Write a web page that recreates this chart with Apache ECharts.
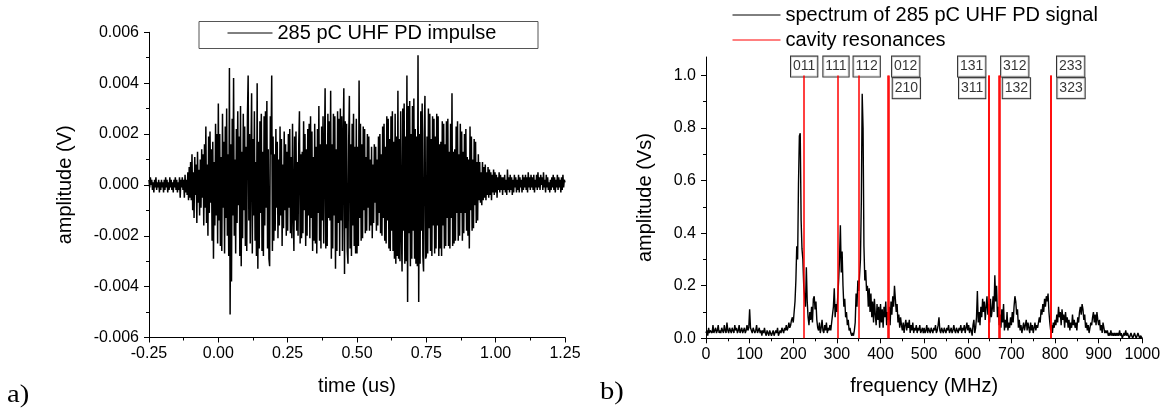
<!DOCTYPE html>
<html>
<head>
<meta charset="utf-8">
<script src="https://cdn.jsdelivr.net/npm/echarts@6/dist/echarts.min.js"></script>
<style>
html,body{margin:0;padding:0;background:#fff;}
#c{width:1165px;height:412px;}
</style>
</head>
<body>
<div id="c"></div>
<script>
// ---------- panel a: time signal (amplitude in mV, sampled every 2.5 ns from -0.25 us) ----------
const timeStart = -0.25;
const timeStep = 0.0025;
const impulse_mV = [
 0.2,-0.1,0.3,0.0,0.2,-0.2,0.1,-0.3,0.2,-0.1,0.3,-0.2,0.1,-0.1,0.2,-0.3,0.1,-0.2,0.2,-0.1,
 0.1,-0.3,0.2,-0.2,0.3,-0.1,0.2,-0.3,0.1,-0.2,0.3,-0.1,0.2,-0.2,0.1,-0.3,0.2,-0.1,0.3,-0.2,
 0.2,-0.3,0.1,-0.2,0.3,-0.5,0.2,-0.1,0.3,-0.2,0.2,-0.5,0.4,-0.3,0.2,-0.4,0.5,-0.6,0.7,-0.5,
 0.9,-0.6,1.2,-1.0,0.5,-1.3,1.1,-0.4,0.8,-1.5,1.3,-0.7,0.6,-1.2,1.0,-0.9,1.4,-0.5,1.2,-1.6,
 1.6,-0.9,2.3,-1.5,0.8,-2.0,1.9,-1.1,2.1,-0.7,1.4,-2.2,1.7,-2.9,0.9,-1.6,2.4,-1.2,2.0,-2.3,
 3.2,-1.4,2.0,-2.4,1.1,-2.6,2.8,-0.9,1.7,-2.7,2.3,-1.3,3.0,-2.0,1.2,-2.8,4.6,-5.1,1.6,-3.8,
 2.6,-1.2,4.2,-2.0,1.0,-2.7,2.2,-1.5,2.9,-0.8,1.9,-2.8,3.1,-3.2,1.3,-2.1,2.8,-1.0,2.3,-2.4,
 1.5,-2.6,2.7,4.3,-1.4,2.0,-2.3,1.1,3.6,-2.7,1.8,-1.2,2.9,-2.2,0.9,-2.8,4.0,-3.3,1.7,-2.5,
 2.5,-1.1,2.8,-2.6,1.3,-2.8,2.7,-1.6,2.9,-0.9,3.3,-2.5,1.4,-2.9,-3.2,2.7,1.2,4.3,-2.6,1.9,
 -2.2,1.2,-1.8,2.2,-0.9,1.7,-2.1,1.0,-1.6,2.3,-1.2,1.8,-2.4,0.8,-1.7,2.1,-1.0,1.6,-2.0,1.3,
 -1.8,2.0,-0.9,2.2,-1.9,1.1,-2.1,2.4,-1.0,-2.6,1.9,-1.4,2.1,-1.8,0.9,-2.0,1.6,2.9,-2.3,1.2,
 -2.1,1.3,-1.9,2.5,-1.0,2.0,-2.4,1.4,-2.0,2.2,-1.2,2.4,-2.1,2.7,-1.3,2.1,-2.6,1.1,-2.2,2.4,
 -2.3,1.5,-2.7,2.2,-1.1,3.1,-2.2,1.6,-2.5,2.3,-1.4,2.7,-2.3,1.2,3.8,-2.5,1.6,-2.4,2.8,-1.3,
 2.5,-1.4,3.7,-2.9,1.6,-2.5,2.8,-1.2,2.7,-3.3,1.4,-2.6,2.9,-1.5,2.6,-2.8,3.0,-1.4,2.7,-2.6,
 1.6,3.8,-3.5,2.5,-1.7,2.4,-2.6,-3.1,1.7,3.5,-2.5,1.6,-2.8,2.4,-1.6,2.8,-2.4,1.5,-2.7,2.6,
 -2.7,1.5,-2.4,4.1,-1.3,2.4,-2.2,1.6,-2.1,2.3,-1.0,2.2,-1.9,1.1,-1.8,2.0,-0.9,1.9,-1.8,1.0,
 -1.6,1.5,-2.1,0.8,-1.5,1.6,-0.7,1.5,-1.8,1.0,-1.6,1.9,-1.1,2.0,-1.9,1.2,-2.0,2.3,-1.3,2.4,
 -2.2,1.5,-2.3,2.7,-1.4,2.6,-2.5,1.8,-2.6,2.7,-1.8,2.9,-2.6,1.7,-2.9,2.8,-3.1,1.9,-2.8,3.7,
 -2.9,1.8,-3.0,2.9,-1.7,-3.4,3.0,-1.8,3.2,-3.1,1.9,-3.0,4.3,-4.6,3.1,-1.9,3.3,-3.2,2.0,-2.9,
 3.1,-1.8,3.4,-2.9,2.2,-3.1,1.9,-3.2,5.1,-4.6,2.0,-3.1,2.9,-1.8,3.2,-2.8,-3.4,2.0,3.5,-2.9,
 -2.8,1.9,-2.7,3.0,-1.7,2.8,-2.6,1.8,-2.8,2.7,-1.6,2.6,-2.7,1.9,-2.5,2.8,-1.6,2.7,-2.8,1.6,
 -2.5,1.7,-2.8,2.5,-1.6,2.4,-2.5,1.6,-2.4,2.5,-1.3,2.6,-2.4,1.3,-2.5,2.4,-1.3,3.6,-2.4,1.3,
 -2.3,1.4,-2.2,2.3,-1.1,2.5,-2.2,1.2,-2.0,2.4,-1.1,2.1,-2.2,1.3,-1.9,2.0,-1.1,2.2,-1.8,1.1,
 -2.0,1.0,-2.5,2.3,-1.0,1.9,-1.8,1.0,-1.7,1.8,-0.8,1.7,-1.5,0.9,-1.4,1.2,-0.6,0.9,-0.7,0.5,
 -0.8,0.9,-0.6,0.7,-0.5,0.8,-0.6,0.5,-0.4,0.7,-0.5,0.6,-0.4,0.5,-0.6,0.4,-0.3,0.6,-0.4,0.5,
 -0.3,0.4,-0.5,0.3,-0.2,0.5,-0.3,0.4,-0.2,0.3,-0.4,0.3,-0.2,0.4,-0.3,0.2,-0.4,0.6,-0.2,0.3,
 -0.3,0.4,-0.2,0.3,-0.4,0.2,-0.3,0.4,-0.1,0.3,-0.3,0.2,-0.2,0.4,-0.3,0.3,-0.1,0.2,-0.3,0.4,
 -0.2,0.3,-0.1,0.4,-0.2,0.3,-0.3,0.5,-0.1,0.3,-0.2,0.4,-0.1,0.3,-0.2,0.4,-0.3,0.2,-0.1,0.4,
 -0.2,0.5,-0.1,0.3,-0.2,0.4,0.0,0.3,-0.2,0.5,-0.1,0.2,-0.3,0.4,-0.1,0.3,-0.2,0.1,-0.3,0.2,
 -0.2,0.3,-0.1,0.4,-0.2,0.3,-0.3,0.2,-0.1,0.4,-0.2,0.3,-0.1,0.2,-0.3,0.3,-0.2,0.4,-0.1,0.2,
 0.1
];
const timeTicks = [-0.25, 0.00, 0.25, 0.50, 0.75, 1.00, 1.25];
const voltTicks = [-0.006, -0.004, -0.002, 0.000, 0.002, 0.004, 0.006];

// ---------- panel b: spectrum (Vs, every 2 MHz from 0 MHz) ----------
const freqStart = 0;
const freqStep = 2;
const spectrum_Vs = [
 0.02,0.03,0.01,0.04,0.02,0.03,0.03,0.02,0.05,0.02, 0.03,0.04,0.02,0.03,0.05,0.02,0.03,0.02,0.04,0.03,
 0.02,0.05,0.03,0.02,0.06,0.03,0.02,0.04,0.03,0.02, 0.04,0.03,0.02,0.05,0.03,0.04,0.02,0.03,0.05,0.02,
 0.03,0.04,0.02,0.03,0.04,0.02,0.03,0.05,0.03,0.04,
 0.11,0.04,0.03,0.02,0.04,0.03,0.02,0.03,0.05,0.02, 0.03,0.04,0.02,0.03,0.01,0.03,0.02,0.04,0.02,0.01,
 0.03,0.02,0.01,0.03,0.02,0.01,0.02,0.03,0.01,0.02, 0.03,0.02,0.04,0.01,0.02,0.03,0.02,0.04,0.03,0.02,
 0.04,0.03,0.05,0.03,0.04,0.06,0.04,0.05,0.07,0.08,
 0.06,0.10,0.14,0.22,0.35,0.30,0.59,0.77,0.78,0.45, 0.34,0.30,0.20,0.16,0.12,0.27,0.14,0.08,0.05,0.10,
 0.07,0.12,0.06,0.15,0.16,0.11,0.14,0.07,0.04,0.03, 0.06,0.02,0.04,0.07,0.03,0.02,0.05,0.03,0.06,0.02,
 0.04,0.03,0.05,0.03,0.06,0.09,0.12,0.19,0.08,0.13,
 0.10,0.16,0.22,0.30,0.43,0.25,0.33,0.20,0.12,0.15, 0.08,0.10,0.05,0.07,0.03,0.04,0.02,0.01,0.02,0.01,
 0.03,0.06,0.17,0.12,0.22,0.18,0.24,0.30,0.52,0.93, 0.80,0.35,0.22,0.26,0.18,0.20,0.12,0.19,0.10,0.17,
 0.08,0.14,0.06,0.15,0.09,0.05,0.13,0.07,0.12,0.04,
 0.13,0.06,0.11,0.04,0.12,0.08,0.14,0.05,0.10,0.07, 0.12,0.05,0.14,0.09,0.16,0.12,0.20,0.15,0.10,0.13,
 0.06,0.09,0.04,0.08,0.05,0.03,0.06,0.02,0.05,0.07, 0.03,0.06,0.04,0.07,0.02,0.05,0.03,0.06,0.02,0.04,
 0.03,0.05,0.02,0.04,0.03,0.05,0.02,0.03,0.04,0.02,
 0.04,0.02,0.03,0.05,0.02,0.04,0.03,0.02,0.04,0.03, 0.02,0.04,0.03,0.05,0.02,0.03,0.05,0.08,0.03,0.02,
 0.04,0.03,0.02,0.04,0.03,0.02,0.04,0.03,0.05,0.02, 0.03,0.04,0.02,0.03,0.05,0.03,0.02,0.04,0.03,0.02,
 0.04,0.03,0.05,0.02,0.04,0.03,0.05,0.02,0.04,0.06,
 0.03,0.05,0.02,0.04,0.03,0.01,0.05,0.07,0.02,0.04, 0.08,0.18,0.06,0.10,0.05,0.12,0.08,0.15,0.10,0.14,
 0.07,0.12,0.16,0.09,0.13,0.06,0.15,0.08,0.11,0.16, 0.10,0.24,0.14,0.20,0.08,0.12,0.05,0.09,0.04,0.11,
 0.06,0.13,0.03,0.07,0.04,0.10,0.03,0.06,0.04,0.08,
 0.05,0.10,0.06,0.12,0.16,0.14,0.09,0.11,0.04,0.07, 0.03,0.05,0.02,0.04,0.06,0.03,0.05,0.07,0.03,0.06,
 0.04,0.02,0.06,0.03,0.05,0.02,0.04,0.06,0.03,0.05, 0.04,0.06,0.08,0.06,0.11,0.09,0.13,0.10,0.15,0.12,
 0.16,0.14,0.17,0.10,0.06,0.03,0.05,0.02,0.06,0.04,
 0.07,0.05,0.09,0.06,0.12,0.08,0.10,0.05,0.11,0.07, 0.09,0.04,0.10,0.06,0.08,0.04,0.07,0.03,0.06,0.04,
 0.09,0.05,0.07,0.04,0.06,0.03,0.08,0.06,0.10,0.12, 0.09,0.13,0.11,0.07,0.09,0.04,0.06,0.03,0.05,0.02,
 0.04,0.06,0.05,0.08,0.10,0.06,0.09,0.05,0.10,0.07,
 0.05,0.07,0.03,0.05,0.02,0.06,0.04,0.02,0.03,0.02, 0.03,0.01,0.02,0.01,0.03,0.01,0.02,0.01,0.02,0.01,
 0.02,0.01,0.02,0.01,0.03,0.01,0.02,0.00,0.01,0.02, 0.01,0.03,0.01,0.02,0.01,0.00,0.01,0.02,0.01,0.00,
 0.01,0.02,0.01,0.00,0.01,0.02,0.01,0.00,0.01,0.01,
 0.00
];
const freqTicks = [0,100,200,300,400,500,600,700,800,900,1000];
const specTicks = [0.0,0.2,0.4,0.6,0.8,1.0];
const specMinorTicks = [0.1,0.3,0.5,0.7,0.9];

// cavity resonances (MHz) and their mode labels
const resonanceFreq = [225, 302.5, 350, 416.5, 418, 648, 649, 671, 672.5, 790, 790.8];
const resonanceMode = ['011','111','112','012','210','131','311','312','132','233','323'];
const resonanceTop = 1.0;

// ---------- build ----------
const FONT = '"Liberation Sans", Arial, sans-serif';
const timeSeries = impulse_mV.map((v, i) => [timeStart + i * timeStep, v / 1000]);
const specSeries = spectrum_Vs.map((v, i) => [freqStart + i * freqStep, v]);

// label box layout: [row (0 top, 1 bottom), pixel offset from line]
const labelLayout = {
  '011':[0,0], '111':[0,-2], '112':[0,8], '012':[0,18], '210':[1,18],
  '131':[0,-17], '311':[1,-17], '312':[0,16], '132':[1,17], '233':[0,20], '323':[1,20]
};
const rowValue = [1.041, 0.959];

const markLines = resonanceFreq.map(f => [{coord:[f, 0]}, {coord:[f, resonanceTop]}]);
const labelData = resonanceFreq.map((f, i) => {
  const m = resonanceMode[i];
  const lay = labelLayout[m];
  return {value:[f, rowValue[lay[0]]], name:m, label:{offset:[lay[1], 2]}};
});

const axisCommon = {
  axisLine:{show:true, onZero:false, lineStyle:{color:'#000', width:1}},
  axisTick:{show:true, inside:false, length:5, lineStyle:{color:'#000'}},
  minorTick:{show:true, splitNumber:2, length:3, lineStyle:{color:'#000'}},
  splitLine:{show:false},
  axisLabel:{color:'#000', fontFamily:FONT, fontSize:16},
  nameTextStyle:{color:'#000', fontFamily:FONT, fontSize:20},
  nameLocation:'middle'
};

const chart = echarts.init(document.getElementById('c'), null, {renderer:'canvas'});
chart.setOption({
  animation:false,
  backgroundColor:'#fff',
  grid:[
    {left:149, top:32.3, width:416, height:305.2},
    {left:706, top:57, width:436.3, height:281.3}
  ],
  xAxis:[
    Object.assign({}, axisCommon, {
      gridIndex:0, type:'value', min:timeTicks[0], max:timeTicks[timeTicks.length-1], interval:0.25,
      name:'time (us)', nameGap:39,
      axisLabel:Object.assign({}, axisCommon.axisLabel, {margin:8, formatter:v => v.toFixed(2)})
    }),
    Object.assign({}, axisCommon, {
      gridIndex:1, type:'value', min:freqTicks[0], max:freqTicks[freqTicks.length-1], interval:100,
      name:'frequency (MHz)', nameGap:38,
      axisLabel:Object.assign({}, axisCommon.axisLabel, {margin:8, formatter:v => String(v)})
    })
  ],
  yAxis:[
    Object.assign({}, axisCommon, {
      gridIndex:0, type:'value', min:voltTicks[0], max:voltTicks[voltTicks.length-1], interval:0.002,
      name:'amplitude (V)', nameGap:74,
      axisLabel:Object.assign({}, axisCommon.axisLabel, {margin:10, formatter:v => v.toFixed(3)})
    }),
    Object.assign({}, axisCommon, {
      gridIndex:1, type:'value', min:0, max:1.07,
      name:'amplitude (Vs)', nameGap:51,
      minorTick:{show:false},
      axisTick:Object.assign({}, axisCommon.axisTick, {customValues:specTicks}),
      axisLabel:Object.assign({}, axisCommon.axisLabel, {margin:10, customValues:specTicks, formatter:v => v.toFixed(1)})
    }),
    {
      gridIndex:1, type:'value', min:0, max:1.07, position:'left',
      axisLine:{show:false}, splitLine:{show:false}, minorTick:{show:false},
      axisLabel:{show:false, customValues:specMinorTicks},
      axisTick:{show:true, length:3, lineStyle:{color:'#000'}, customValues:specMinorTicks}
    }
  ],
  legend:[
    {
      data:['285 pC UHF PD impulse'], left:227, top:23, padding:0, itemWidth:45, itemHeight:14, itemGap:0,
      itemStyle:{opacity:0}, lineStyle:{width:1},
      textStyle:{color:'#000', fontFamily:FONT, fontSize:20, lineHeight:20}, selectedMode:false
    },
    {
      data:['spectrum of 285 pC UHF PD signal','cavity resonances'], orient:'vertical',
      left:732, top:5, padding:0, itemWidth:48, itemHeight:14, itemGap:5,
      itemStyle:{opacity:0}, lineStyle:{width:1},
      textStyle:{color:'#000', fontFamily:FONT, fontSize:20, lineHeight:20}, selectedMode:false
    }
  ],
  graphic:[
    {type:'rect', left:196.5, top:19, shape:{width:339, height:27}, style:{fill:'none', stroke:'#555', lineWidth:1}, z:-1},
    {type:'text', x:7, y:382, scaleX:1.1, style:{text:'a)', font:'26px "Liberation Serif", "Times New Roman", serif', fill:'#000'}},
    {type:'text', x:600, y:379, scaleX:1.1, style:{text:'b)', font:'26px "Liberation Serif", "Times New Roman", serif', fill:'#000'}}
  ],
  series:[
    {
      name:'285 pC UHF PD impulse', type:'line', xAxisIndex:0, yAxisIndex:0,
      data:timeSeries, symbol:'none', showSymbol:false,
      lineStyle:{color:'#000', width:1.5}, itemStyle:{color:'#000'}, silent:true
    },
    {
      name:'spectrum of 285 pC UHF PD signal', type:'line', xAxisIndex:1, yAxisIndex:1,
      data:specSeries, symbol:'none', showSymbol:false,
      lineStyle:{color:'#000', width:1.4}, itemStyle:{color:'#000'}, silent:true, z:2
    },
    {
      name:'cavity resonances', type:'line', xAxisIndex:1, yAxisIndex:1, data:[],
      symbol:'none', lineStyle:{color:'#ff0000', width:1.5}, itemStyle:{color:'#ff0000'}, z:3,
      markLine:{
        silent:true, symbol:['none','none'], animation:false, label:{show:false},
        lineStyle:{color:'#ff0000', width:1.5, type:'solid'},
        emphasis:{disabled:true},
        data:markLines
      }
    },
    {
      name:'modes', type:'scatter', xAxisIndex:1, yAxisIndex:1, symbolSize:0, silent:true, z:4,
      data:labelData,
      label:{
        show:true, position:'inside', formatter:p => p.name,
        color:'#000', fontFamily:FONT, fontSize:14, lineHeight:16,
        backgroundColor:'#fff', borderColor:'#000', borderWidth:1, padding:[2,2,2,2]
      }
    }
  ]
});
</script>
</body>
</html>
